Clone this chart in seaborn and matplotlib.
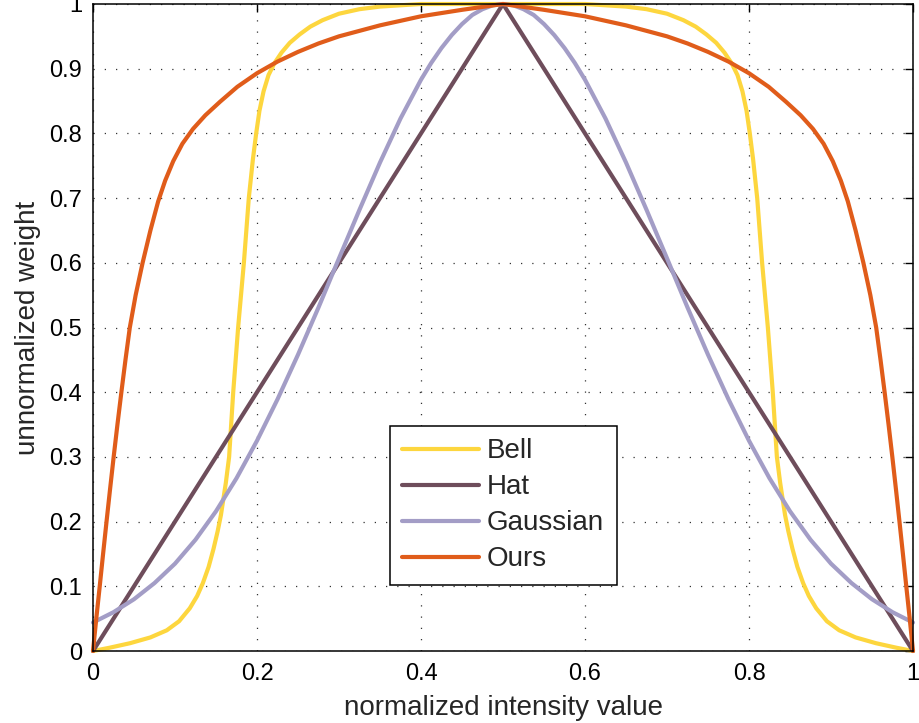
import matplotlib
matplotlib.use("Agg")
import matplotlib.pyplot as plt
import pandas as pd
import seaborn as sns

# ---- data ----
bell_x = [0.0, 0.02, 0.045, 0.07, 0.09, 0.105, 0.118, 0.127, 0.134, 0.141, 0.147, 0.152,
          0.156, 0.162, 0.166, 0.171, 0.177, 0.184, 0.190, 0.195, 0.199, 0.203, 0.208,
          0.214, 0.221, 0.23, 0.24, 0.252, 0.265, 0.28, 0.3, 0.325, 0.35, 0.4, 0.5,
          0.6, 0.65, 0.675, 0.7, 0.72, 0.735, 0.748, 0.76, 0.77, 0.779, 0.786, 0.792,
          0.797, 0.801, 0.805, 0.81, 0.816, 0.823, 0.829, 0.834, 0.838, 0.844, 0.848,
          0.853, 0.859, 0.866, 0.873, 0.882, 0.895, 0.91, 0.93, 0.955, 0.98, 1.0]
bell_y = [0.0, 0.005, 0.012, 0.021, 0.032, 0.046, 0.066, 0.085, 0.105, 0.13, 0.158, 0.185,
          0.21, 0.26, 0.30, 0.40, 0.50, 0.60, 0.70, 0.76, 0.80, 0.835, 0.865,
          0.89, 0.908, 0.925, 0.94, 0.953, 0.965, 0.975, 0.985, 0.992, 0.996, 1.0, 1.0,
          1.0, 0.996, 0.992, 0.985, 0.975, 0.965, 0.953, 0.94, 0.925, 0.908, 0.89, 0.865,
          0.835, 0.80, 0.76, 0.70, 0.60, 0.50, 0.40, 0.30, 0.26, 0.21, 0.185,
          0.158, 0.13, 0.105, 0.085, 0.066, 0.046, 0.032, 0.021, 0.012, 0.005, 0.0]

hat_x = [0.0, 0.5, 1.0]
hat_y = [0.0, 1.0, 0.0]

gauss_x = [0.0, 0.025, 0.05, 0.075, 0.1, 0.125, 0.15, 0.175, 0.2, 0.225, 0.25,
           0.275, 0.3, 0.325, 0.35, 0.375, 0.4, 0.4125, 0.425, 0.4375, 0.45, 0.4625,
           0.475, 0.4875, 0.5, 0.5125, 0.525, 0.5375, 0.55, 0.5625, 0.575, 0.5875,
           0.6, 0.625, 0.65, 0.675, 0.7, 0.725, 0.75,
           0.775, 0.8, 0.825, 0.85, 0.875, 0.9, 0.925, 0.95, 0.975, 1.0]
gauss_y = [0.044, 0.060, 0.080, 0.105, 0.135, 0.172, 0.216, 0.267, 0.325, 0.389, 0.458,
           0.531, 0.607, 0.682, 0.755, 0.823, 0.883, 0.909, 0.932, 0.952, 0.969, 0.983,
           0.992, 0.998, 1.0, 0.998, 0.992, 0.983, 0.969, 0.952, 0.932, 0.909,
           0.883, 0.823, 0.755, 0.682, 0.607, 0.531, 0.458,
           0.389, 0.325, 0.267, 0.216, 0.172, 0.135, 0.105, 0.080, 0.060, 0.044]

ours_x = [0.0, 0.004, 0.0082, 0.0123, 0.0165, 0.0208, 0.0252, 0.0298, 0.0346, 0.0396,
          0.0449, 0.052, 0.0605, 0.07, 0.0795, 0.088, 0.0978, 0.109, 0.122, 0.137,
          0.155, 0.176, 0.2, 0.225, 0.25, 0.275, 0.3, 0.35, 0.4, 0.45, 0.5,
          0.55, 0.6, 0.65, 0.7, 0.725, 0.75, 0.775, 0.8, 0.824, 0.845, 0.863, 0.878,
          0.891, 0.9022, 0.912, 0.9205, 0.93, 0.9395, 0.948, 0.9551, 0.9604, 0.9654,
          0.9702, 0.9748, 0.9792, 0.9835, 0.9877, 0.9918, 0.996, 1.0]
ours_y = [0.0, 0.05, 0.10, 0.15, 0.20, 0.25, 0.30, 0.35, 0.40, 0.45,
          0.50, 0.55, 0.60, 0.65, 0.695, 0.727, 0.757, 0.784, 0.807, 0.828,
          0.849, 0.872, 0.893, 0.911, 0.926, 0.939, 0.950, 0.967, 0.981, 0.991, 1.0,
          0.991, 0.981, 0.967, 0.950, 0.939, 0.926, 0.911, 0.893, 0.872, 0.849, 0.828, 0.807,
          0.784, 0.757, 0.727, 0.695, 0.65, 0.60, 0.55,
          0.50, 0.45, 0.40, 0.35, 0.30, 0.25, 0.20, 0.15, 0.10, 0.05, 0.0]

names = ["Bell", "Hat", "Gaussian", "Ours"]
colors = ["#FDD63E", "#6E4D5B", "#A39DC6", "#E05C1A"]

xticks = [0, 0.2, 0.4, 0.6, 0.8, 1]
xtick_labels = ["0", "0.2", "0.4", "0.6", "0.8", "1"]
yticks = [0, 0.1, 0.2, 0.3, 0.4, 0.5, 0.6, 0.7, 0.8, 0.9, 1]
ytick_labels = ["0", "0.1", "0.2", "0.3", "0.4", "0.5", "0.6", "0.7", "0.8", "0.9", "1"]

xlabel = "normalized intensity value"
ylabel = "unnormalized weight"

# ---- long table ----
series = {"Bell": (bell_x, bell_y), "Hat": (hat_x, hat_y),
          "Gaussian": (gauss_x, gauss_y), "Ours": (ours_x, ours_y)}
frames = []
for n in names:
    xs, ys = series[n]
    frames.append(pd.DataFrame({"x": xs, "y": ys, "curve": n}))
df = pd.concat(frames, ignore_index=True)

sns.set_style("white")
plt.rcParams["font.family"] = ["Liberation Sans", "DejaVu Sans"]

fig = plt.figure(figsize=(9.19, 7.23), dpi=100)
ax = fig.add_axes([93 / 919, 72 / 723, 820 / 919, 647 / 723])

sns.lineplot(data=df, x="x", y="y", hue="curve", hue_order=names,
             palette=dict(zip(names, colors)), estimator=None, sort=False,
             linewidth=3, ax=ax, legend=True)
for ln in ax.get_lines():
    ln.set_clip_on(False)
    ln.set_solid_joinstyle("round")

ax.set_xlim(0, 1)
ax.set_ylim(0, 1)
ax.set_xticks(xticks)
ax.set_xticklabels(xtick_labels)
ax.set_yticks(yticks)
ax.set_yticklabels(ytick_labels)
ax.tick_params(direction="in", length=6, width=1, top=True, right=True,
               labelsize=17, colors="black", pad=8)
ax.tick_params(axis="x", pad=9)
ax.grid(True, linestyle=(0, (1, 8)), linewidth=0.9, color="0.2")
for s in ax.spines.values():
    s.set_visible(True)
    s.set_color("black")
    s.set_linewidth(1.1)

ax.set_xlabel(xlabel, fontsize=20, labelpad=7)
ax.set_ylabel(ylabel, fontsize=20, labelpad=6)

handles, labels = ax.get_legend_handles_labels()
leg = ax.legend(handles, labels, loc="upper left",
                bbox_to_anchor=(0.362, 0.348), fontsize=20, frameon=True,
                fancybox=False, edgecolor="black", framealpha=1,
                handlelength=2.75, handletextpad=0.3, labelspacing=0.36,
                borderpad=0.45, borderaxespad=0)
leg.get_frame().set_linewidth(1.1)
for lh in leg.get_lines():
    lh.set_linewidth(3)

fig.savefig("out.png", dpi=100)
